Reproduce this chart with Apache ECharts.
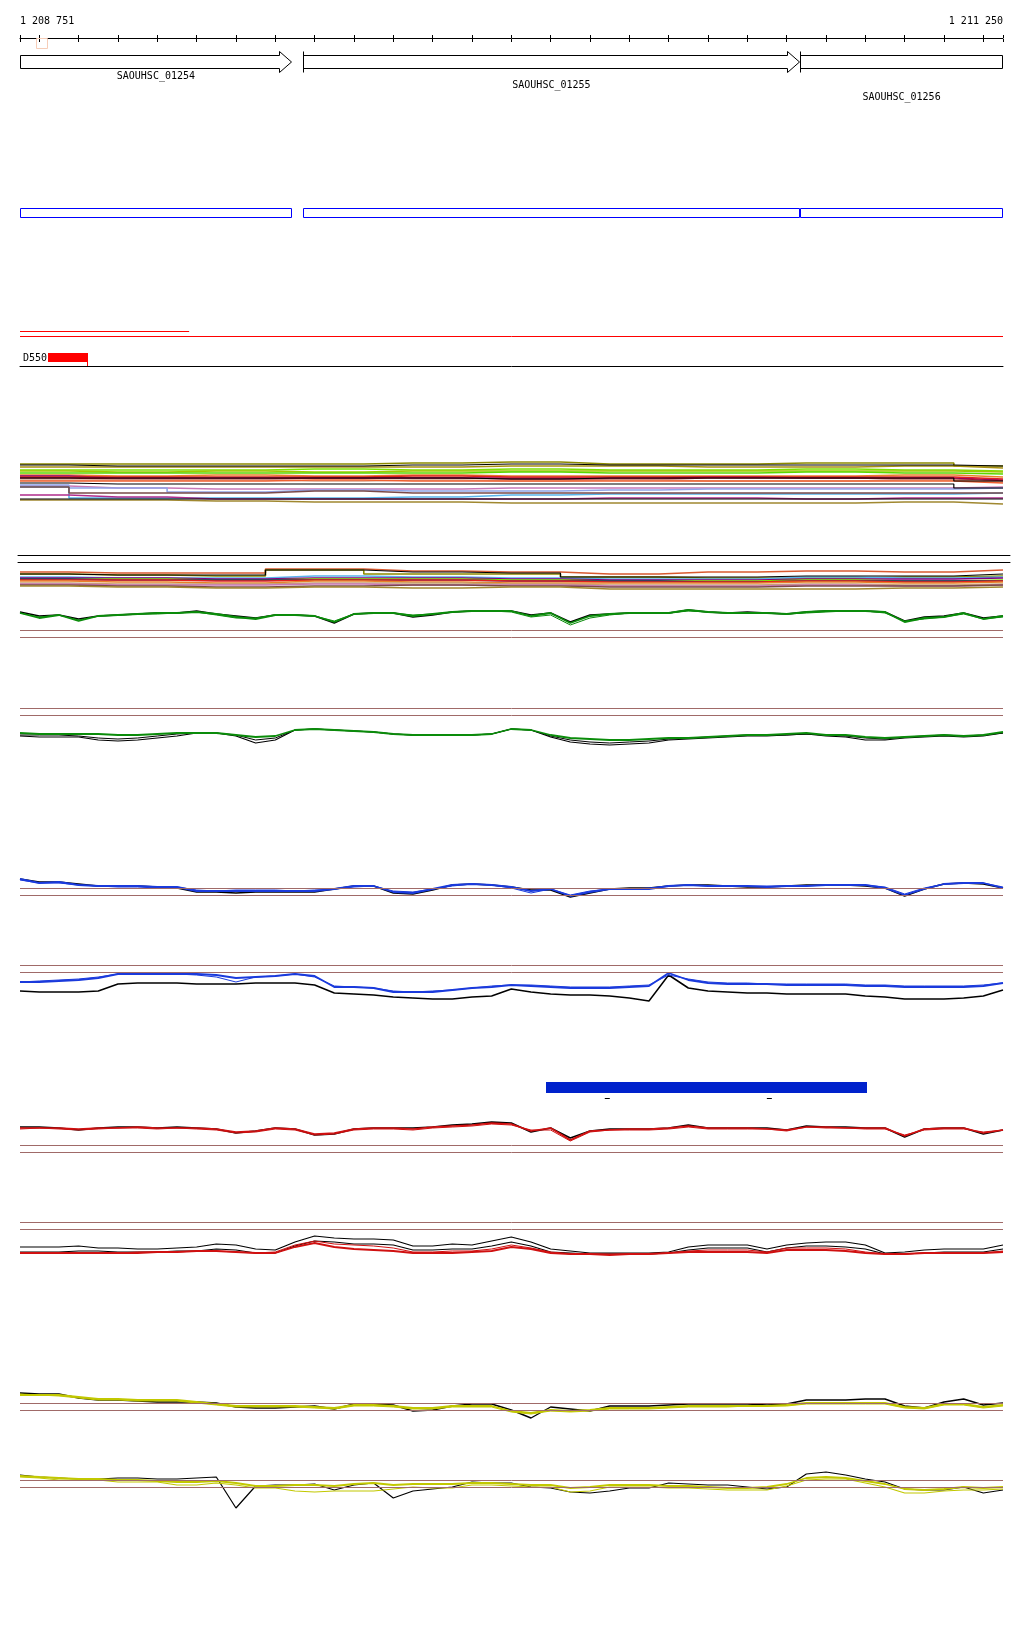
<!DOCTYPE html>
<html><head><meta charset="utf-8">
<script src="https://cdn.jsdelivr.net/npm/echarts@6/dist/echarts.min.js"></script>
<style>html,body{margin:0;padding:0;background:#fff}#c{width:1024px;height:1640px}</style>
</head><body><div id="c"></div>
<script>
// ---------- data ----------
const X0 = 1208751, X1 = 1211250;
const TICKS = [1208751,1208800,1208900,1209000,1209100,1209200,1209300,1209400,1209500,1209600,1209700,1209800,1209900,1210000,1210100,1210200,1210300,1210400,1210500,1210600,1210700,1210800,1210900,1211000,1211100,1211200,1211250];
const END_LABELS = [1208751, 1211250];
const GENE_NAMES = ['SAOUHSC_01254','SAOUHSC_01255','SAOUHSC_01256'];
const GENE_STARTS = [1208751, 1209470, 1210734];
const GENE_ENDS = [1209442, 1210734, 1211250];
const CURSOR = [[1208792, 1208820]];
const RED_SEGS = [[1208751, 1209181, 1], [1208751, 1211250, 0]];
const FEATURE = [[1208823, 1208923, 'D550']];
const BAR = [[1210088, 1210904]];
const BAR_MARKS = [1210244, 1210656];

// sample positions (bp) for profile tracks
const P = [1208751,1208800,1208850,1208900,1208950,1209000,1209050,1209100,1209150,1209200,1209250,1209300,1209350,1209400,1209450,1209500,1209550,1209600,1209650,1209700,1209750,1209800,1209850,1209900,1209950,1210000,1210050,1210100,1210150,1210200,1210250,1210300,1210350,1210400,1210450,1210500,1210550,1210600,1210650,1210700,1210750,1210800,1210850,1210900,1210950,1211000,1211050,1211100,1211150,1211200,1211250];
const Q = [1208751,1209000,1209250,1209500,1209750,1210000,1210250,1210500,1210750,1211000,1211250];

// multicolour track A (depth below track top)
const A01=[9,9,9,9,8,7,9,9,8,8,11];
const A02=[10,11,11,11,10,9,10,10,10,10,11];
const A03=[12,12,12,12,12,11,11,12,12,11,13];
const A04=[15,15,15,14,15,14,15,15,14,15,16];
const A05=[16,17,16,17,16,16,16,16,16,16,17];
const A06=[18,18,18,18,18,17,18,18,17,18,19];
const A07=[20,21,20,21,20,21,21,21,21,20,22];
const A08=[22,22,22,22,21,22,22,22,22,22,24];
const A09=[21,23,23,23,23,23,23,22,23,23,25];
const A10=[23,24,24,23,23,24,24,23,23,24,26];
const A11=[23,23,23,23,23,24,23,23,23,23,26];
const A12=[25,25,25,26,25,26,25,26,26,25,27];
const A13=[26,26,26,25,26,26,26,26,26,26,28];
const A14=[28,29,29,29,29,29,29,29,29,29,33];
const A15=[31,33,34,34,34,33,33,33,33,33,32];
const A16=[30,33,37,35,36,36,35,34,34,34,33];
const A17=[32,43,43,43,42,40,39,39,39,39,38];
const A18=[32,38,38,36,38,38,38,38,38,38,38];
const A19=[40,42,44,44,44,44,43,43,44,43,43];
const A20=[44,44,44,44,44,44,44,44,44,44,44];
const A21=[45,45,46,47,47,48,48,48,48,47,49];
// multicolour track B
const B01=[12,13,13,9,11,12,14,12,11,12,10];
const B02=[14,15,15,10,12,13,17,17,16,16,14];
const B03=[14,15,16,10,14,14,17,18,18,17,16];
const B04=[17,18,18,16,17,18,19,19,17,18,17];
const B05=[18,18,19,18,18,19,20,20,19,19,18];
const B06=[19,19,20,19,19,20,21,21,20,21,20];
const B07=[19,20,20,20,20,21,21,22,21,21,21];
const B08=[20,20,21,20,20,21,22,22,21,22,21];
const B09=[21,22,23,21,22,23,23,23,22,23,22];
const B10=[23,24,24,23,23,24,25,25,24,25,24];
const B11=[24,25,25,24,25,25,26,26,25,26,25];
const B12=[25,26,27,26,25,26,27,27,26,26,25];
const B13=[26,27,28,27,28,27,29,29,29,28,27];

// green track 1
const C_green=[13,18,15,21,16,15,14,13,13,12,14,17,19,15,15,16,22,14,13,13,16,14,12,11,11,11,16,13,23,16,14,13,13,13,10,12,13,13,13,14,12,11,11,11,12,22,18,17,13,19,16];
const C_black=[12,16,15,19,16,15,14,13,13,11,14,16,18,15,15,16,23,14,13,13,17,15,12,11,11,11,15,13,22,15,14,13,13,13,10,12,13,12,13,14,12,11,11,11,12,21,17,16,13,18,16];
const C_green2=[13,17,15,20,16,15,14,14,13,12,15,18,18,15,15,16,21,14,13,13,15,14,12,11,11,12,17,15,25,18,15,13,13,13,11,12,13,13,13,14,13,12,11,11,13,21,19,17,14,19,17];
// green track 2
const D_green=[33,34,34,34,34,35,35,34,33,33,33,35,37,36,30,29,30,31,32,34,35,35,35,35,34,29,30,35,38,39,40,40,39,38,38,37,36,35,35,34,33,35,35,37,38,37,36,35,36,35,32];
const D_black=[36,37,37,37,40,41,40,38,36,33,33,36,43,40,30,29,30,31,32,34,35,35,35,35,34,29,30,37,42,44,45,44,43,40,39,38,37,36,36,35,34,36,37,40,40,38,37,36,37,36,33];
const D_black2=[35,35,35,36,38,39,38,36,34,33,33,35,40,38,30,29,30,31,32,34,35,35,35,35,34,29,30,36,40,42,43,42,41,39,38,37,36,35,35,35,34,35,36,38,39,37,36,35,36,35,33];
// blue track 1
const E_blue=[9,13,12,15,16,16,16,17,17,21,21,21,21,21,21,21,19,16,16,22,23,19,15,14,15,17,21,19,26,22,19,19,19,16,15,16,16,16,17,16,16,15,15,15,18,25,19,14,13,13,18];
const E_black=[9,12,12,14,16,16,16,17,18,22,22,23,22,22,22,22,19,16,16,23,24,20,15,14,15,17,20,20,27,23,19,18,18,16,15,15,16,17,17,16,15,15,15,16,18,26,19,14,13,14,18];
const E_blue2=[10,13,13,15,16,17,17,18,17,20,21,20,20,20,21,20,19,17,16,21,22,19,16,14,15,18,23,19,25,21,19,19,18,16,15,16,16,16,16,16,16,15,15,15,17,24,18,14,13,13,17];
// blue track 2
const F_blue=[22,22,21,20,18,14,14,14,14,14,15,18,17,16,14,16,27,27,28,32,32,32,30,28,27,25,26,27,28,28,28,27,26,13,20,23,24,24,24,25,25,25,25,26,26,27,27,27,27,26,23];
const F_black=[31,32,32,32,31,24,23,23,23,24,24,24,23,23,23,25,33,34,35,37,38,39,39,37,36,29,32,34,35,35,36,38,41,15,28,31,32,33,33,34,34,34,34,36,37,39,39,39,38,36,30];
const F_blue2=[22,21,20,19,17,14,14,14,14,15,17,22,17,16,14,17,26,27,28,31,32,31,30,28,26,25,25,26,27,27,27,26,25,15,19,22,23,23,24,24,24,24,24,25,25,26,26,26,26,25,23];
// red track 1
const G_black=[22,22,23,25,23,22,22,23,22,23,24,28,26,23,24,30,29,24,23,23,23,22,20,19,17,18,27,23,33,26,24,24,24,23,20,23,23,23,23,25,21,22,22,23,23,32,24,23,23,29,25];
const G_red=[23,23,23,24,23,23,22,23,23,23,24,27,26,23,24,29,28,24,23,23,24,22,21,20,18,19,26,23,35,26,25,24,24,23,21,23,23,23,24,25,22,22,23,23,23,31,24,23,23,28,25];
const G_red2=[24,23,24,25,24,23,23,24,23,24,25,28,27,24,25,30,29,25,24,24,25,23,22,21,19,20,25,25,36,27,25,25,25,24,22,24,24,24,24,26,22,23,23,24,24,30,25,24,24,27,25];
// red track 2
const H_black=[32,32,32,31,33,33,34,34,33,32,29,30,34,35,27,21,23,24,24,25,31,31,29,30,26,22,27,34,36,38,38,38,38,37,32,30,30,30,34,30,28,27,27,30,38,37,35,34,34,34,30];
const H_black2=[37,37,37,36,36,37,37,37,36,36,34,35,38,38,31,26,27,29,29,30,35,35,34,34,31,27,31,37,38,39,39,39,39,38,35,33,33,33,37,33,31,31,32,34,39,39,38,37,37,37,34];
const H_red=[38,38,38,38,38,38,38,37,37,36,36,37,38,38,32,28,32,34,35,36,38,38,38,37,36,32,34,38,39,39,40,39,39,38,37,37,37,37,38,35,35,35,36,38,39,39,38,38,38,38,37];
const H_red2=[38,38,38,38,38,38,37,37,37,36,36,37,38,37,30,26,29,30,31,33,37,37,36,36,34,30,33,37,39,39,39,39,39,38,36,35,35,35,37,33,33,33,34,37,39,39,38,38,38,38,36];
// yellow track 1
const I_black=[8,9,9,13,15,15,16,17,17,17,18,22,23,23,22,21,24,19,19,20,26,25,21,19,19,25,33,22,24,26,21,21,21,20,19,19,19,19,20,19,15,15,15,14,14,21,23,17,14,20,18];
const I_yellow=[10,10,10,12,14,14,15,15,15,17,19,21,21,21,21,22,23,20,20,21,23,23,21,21,21,26,28,25,26,25,23,23,23,22,21,21,21,21,21,20,18,18,18,18,18,22,23,19,19,22,20];
const I_yellow2=[9,10,11,13,15,15,16,16,16,18,20,22,22,22,22,23,24,21,21,22,24,24,22,22,22,27,29,26,27,26,24,24,24,23,22,22,22,21,21,21,19,19,19,19,19,23,24,20,20,23,21];
// yellow track 2
const J_black=[10,12,13,14,14,13,13,14,14,13,12,43,21,20,20,19,25,20,18,33,26,24,22,17,18,18,22,23,27,28,26,23,23,18,19,20,20,22,24,22,9,7,10,14,17,24,25,25,22,28,25];
const J_yellow=[12,13,15,15,15,17,17,17,20,20,18,20,23,23,26,27,26,26,26,24,22,23,23,20,20,21,22,22,27,26,22,22,22,23,23,24,25,25,25,21,15,14,14,18,22,28,28,26,25,25,24];
const J_yellow2=[11,12,13,14,14,15,15,16,17,17,16,18,21,21,20,20,21,19,18,20,19,19,19,18,18,19,20,20,23,22,20,20,20,21,21,22,23,23,22,19,13,12,13,16,19,24,25,24,22,23,22];

// reference levels per profile track
const REF_C=[30,37], REF_D=[8,15], REF_E=[18,25], REF_F=[5,12], REF_G=[40,47], REF_H=[7,14], REF_I=[18,25], REF_J=[15,22];

// ---------- styles / layout ----------
const MONO = '"DejaVu Sans Mono", monospace';
const BROWN = '#a06a68';
const GREEN = '#0a8c0a', BLUE = '#1a3adc', RED = '#d01010', YEL = '#c2c800';
const LABEL_DY = [14.5, 23.5, 35.5];
const A_LINES = [[A01,'#8c8a00'],[A03,'#a89010'],[A04,'#7ee000'],[A05,'#a0c800'],[A06,'#5ad800'],[A07,'#e8802a'],[A09,'#800080'],[A08,'#e02020'],[A10,'#a01030'],[A12,'#d8a088'],[A13,'#f06030'],[A15,'#c878b8'],[A16,'#90a4e8'],[A17,'#58b4ec'],[A18,'#7a4a48'],[A19,'#b02c8c'],[A21,'#a08830'],[A02,'#000'],[A11,'#000'],[A14,'#000'],[A20,'#000']];
const B_LINES = [[B01,'#d85a30'],[B03,'#8c8a00'],[B04,'#58b4ec'],[B05,'#800080'],[B06,'#7ee000'],[B07,'#1a1a70'],[B08,'#e02020'],[B09,'#e8802a'],[B10,'#c8a070'],[B11,'#c878b8'],[B12,'#7a4a48'],[B13,'#a08830'],[B02,'#000']];

const grid=[], xAxis=[], yAxis=[], series=[];
function addGrid(top, height, ymax, inverse, left, right){
  const g = grid.length;
  grid.push({left: left==null?20:left, right: right==null?21:right, top, height});
  const xi = xAxis.length;
  xAxis.push({type:'value', gridIndex:g, min:X0, max:X1, show:false});
  const yi = yAxis.length;
  yAxis.push({type:'value', gridIndex:g, min:0, max:ymax, inverse:!!inverse, show:false});
  return {g, xi, yi};
}
const fmt = v => String(v).replace(/\B(?=(\d{3})+(?!\d))/g, ' ');

// ruler
const ax = addGrid(38, 1, 1);
Object.assign(xAxis[ax.xi], {show:true, position:'top',
  axisLine:{show:true, onZero:false, lineStyle:{color:'#000', width:1}},
  axisTick:{show:true, customValues:TICKS, length:3, lineStyle:{color:'#000', width:1}},
  axisLabel:{show:true, customValues:END_LABELS, formatter:fmt, margin:12, fontFamily:MONO, fontSize:10, color:'#000', alignMinLabel:'left', alignMaxLabel:'right'},
  splitLine:{show:false}});
xAxis.push({type:'value', gridIndex:ax.g, min:X0, max:X1, position:'bottom',
  axisLine:{show:false, onZero:false}, axisTick:{show:true, customValues:TICKS, length:3, lineStyle:{color:'#000', width:1}},
  axisLabel:{show:false}, splitLine:{show:false}});
series.push({type:'custom', xAxisIndex:ax.xi, yAxisIndex:ax.yi, silent:true, data:CURSOR,
  renderItem(p, api){
    const a = api.coord([api.value(0), 1]), b = api.coord([api.value(1), 1]);
    return {type:'rect', shape:{x:Math.round(a[0])+0.5, y:Math.round(a[1])+0.5, width:Math.round(b[0]-a[0]), height:10}, style:{fill:'none', stroke:'#f6cdb8', lineWidth:1}};
  }});

// genes
const gg = addGrid(51, 21, 1);
series.push({type:'custom', xAxisIndex:gg.xi, yAxisIndex:gg.yi, silent:true,
  data: GENE_NAMES.map((n,i)=>[GENE_STARTS[i], GENE_ENDS[i]]),
  renderItem(p, api){
    const i = p.dataIndex;
    const s = api.coord([api.value(0), 0.5]), e = api.coord([api.value(1), 0.5]);
    const y = s[1];
    const sx = Math.round(s[0])+0.5, ex = Math.round(e[0])-0.5;
    const arrow = api.value(1) < X1, bar = api.value(0) > X0;
    let pts;
    if (arrow) { const hx = ex-12; pts=[[sx,y-6],[hx,y-6],[hx,y-10],[ex,y+0.5],[hx,y+11],[hx,y+7],[sx,y+7]]; }
    else pts=[[sx,y-6],[ex,y-6],[ex,y+7],[sx,y+7]];
    const ch = [{type:'polygon', shape:{points:pts}, style:{fill:'#fff', stroke:'#000', lineWidth:1}}];
    if (bar) ch.push({type:'line', shape:{x1:sx,y1:y-10,x2:sx,y2:y+11}, style:{stroke:'#000', lineWidth:1}});
    ch.push({type:'text', style:{text:GENE_NAMES[i], x:(s[0]+e[0])/2, y:y+LABEL_DY[i], align:'center', verticalAlign:'middle', font:'10px '+MONO, fill:'#000'}});
    return {type:'group', children:ch};
  }});

// CDS outline boxes
const gb = addGrid(208, 9, 1);
series.push({type:'custom', xAxisIndex:gb.xi, yAxisIndex:gb.yi, silent:true,
  data: GENE_NAMES.map((n,i)=>[GENE_STARTS[i], GENE_ENDS[i]]),
  renderItem(p, api){
    const a = api.coord([api.value(0), 1]), b = api.coord([api.value(1), 0]);
    return {type:'rect', shape:{x:Math.round(a[0])+0.5, y:Math.round(a[1])+0.5, width:Math.round(b[0]-a[0])-1, height:Math.round(b[1]-a[1])}, style:{fill:'none', stroke:'#0000ff', lineWidth:1}};
  }});

// red lines
const gr = addGrid(331, 5, 1);
series.push({type:'custom', xAxisIndex:gr.xi, yAxisIndex:gr.yi, silent:true, data:RED_SEGS,
  renderItem(p, api){
    const a = api.coord([api.value(0), api.value(2)]), b = api.coord([api.value(1), api.value(2)]);
    const y = Math.round(a[1])+0.5;
    return {type:'line', shape:{x1:a[0], y1:y, x2:b[0], y2:y}, style:{stroke:'#ff0000', lineWidth:1}};
  }});

// feature track D550
const gd = addGrid(353, 13, 1);
Object.assign(xAxis[gd.xi], {show:true, position:'bottom', axisLine:{show:true, onZero:false, lineStyle:{color:'#000', width:1}}, axisTick:{show:false}, axisLabel:{show:false}, splitLine:{show:false}});
series.push({type:'custom', xAxisIndex:gd.xi, yAxisIndex:gd.yi, silent:true, data:FEATURE,
  renderItem(p, api){
    const a = api.coord([api.value(0), 1]), b = api.coord([api.value(1), 0]);
    const x1 = Math.round(a[0]), x2 = Math.round(b[0]);
    return {type:'group', children:[
      {type:'rect', shape:{x:x1, y:a[1], width:x2-x1, height:9}, style:{fill:'#ff0000'}},
      {type:'line', shape:{x1:x2-0.5, y1:a[1]+9, x2:x2-0.5, y2:b[1]}, style:{stroke:'#ff0000', lineWidth:1}},
      {type:'text', style:{text:FEATURE[p.dataIndex][2], x:x1-1, y:a[1]+5, align:'right', verticalAlign:'middle', font:'10px '+MONO, fill:'#000'}}
    ]};
  }});

function stepTrack(top, h, lines){
  const t = addGrid(top, h, h, true);
  lines.forEach(([vals, color])=>{
    series.push({type:'line', xAxisIndex:t.xi, yAxisIndex:t.yi, silent:true, step:'middle', showSymbol:false,
      data: Q.map((x,i)=>[x, vals[i]]), lineStyle:{color, width:color==='#000'?1.2:1.6}});
  });
}
stepTrack(455, 55, A_LINES);

// separators
const gs = addGrid(555, 7, 1, false, 18, 14);
Object.assign(xAxis[gs.xi], {show:true, position:'top', axisLine:{show:true, onZero:false, lineStyle:{color:'#000', width:1}}, axisTick:{show:false}, axisLabel:{show:false}, splitLine:{show:false}});
xAxis.push({type:'value', gridIndex:gs.g, min:X0, max:X1, position:'bottom', axisLine:{show:true, onZero:false, lineStyle:{color:'#000', width:1}}, axisTick:{show:false}, axisLabel:{show:false}, splitLine:{show:false}});

stepTrack(560, 40, B_LINES);

function profileTrack(top, h, refs, lines){
  const t = addGrid(top, h, h, true);
  series.push({type:'line', xAxisIndex:t.xi, yAxisIndex:t.yi, silent:true, data:[], showSymbol:false,
    markLine:{silent:true, symbol:'none', label:{show:false}, animation:false,
      lineStyle:{color:BROWN, width:1, type:'solid'}, data: refs.map(v=>({yAxis:v}))}});
  lines.forEach(([vals, color, width])=>{
    series.push({type:'line', xAxisIndex:t.xi, yAxisIndex:t.yi, silent:true, showSymbol:false,
      data: P.map((x,i)=>[x, vals[i]]), lineStyle:{color, width}});
  });
}
profileTrack(600, 45, REF_C, [[C_black,'#000',1.4],[C_green2,GREEN,1],[C_green,GREEN,1.8]]);
profileTrack(700, 50, REF_D, [[D_black,'#000',1.2],[D_black2,'#000',1],[D_green,GREEN,1.8]]);
profileTrack(870, 30, REF_E, [[E_black,'#000',1.4],[E_blue2,BLUE,1],[E_blue,BLUE,1.8]]);
profileTrack(960, 45, REF_F, [[F_black,'#000',1.5],[F_blue2,BLUE,1],[F_blue,BLUE,1.8]]);

// blue bar
const gbar = addGrid(1082, 11, 1);
series.push({type:'custom', xAxisIndex:gbar.xi, yAxisIndex:gbar.yi, silent:true, data:BAR,
  renderItem(p, api){
    const a = api.coord([api.value(0), 1]), b = api.coord([api.value(1), 0]);
    return {type:'rect', shape:{x:Math.round(a[0]), y:a[1], width:Math.round(b[0]-a[0]), height:b[1]-a[1]}, style:{fill:'#0022cc'}};
  }});
series.push({type:'custom', xAxisIndex:gbar.xi, yAxisIndex:gbar.yi, silent:true, data:BAR_MARKS.map(v=>[v]),
  renderItem(p, api){
    const a = api.coord([api.value(0), 0]);
    return {type:'line', shape:{x1:a[0]-2.5, y1:a[1]+5.5, x2:a[0]+2.5, y2:a[1]+5.5}, style:{stroke:'#000', lineWidth:1}};
  }});

profileTrack(1105, 50, REF_G, [[G_black,'#000',1.6],[G_red2,RED,1],[G_red,RED,1.6]]);
profileTrack(1215, 50, REF_H, [[H_black,'#000',1.2],[H_black2,'#000',1.2],[H_red2,RED,1],[H_red,RED,1.8]]);
profileTrack(1385, 40, REF_I, [[I_black,'#000',1.4],[I_yellow2,YEL,1],[I_yellow,YEL,1.8]]);
profileTrack(1465, 50, REF_J, [[J_black,'#000',1.2],[J_yellow,YEL,1.2],[J_yellow2,YEL,1.8]]);

const chart = echarts.init(document.getElementById('c'), null, {renderer:'canvas', width:1024, height:1640});
chart.setOption({animation:false, backgroundColor:'#fff', grid, xAxis, yAxis, series});
</script></body></html>
